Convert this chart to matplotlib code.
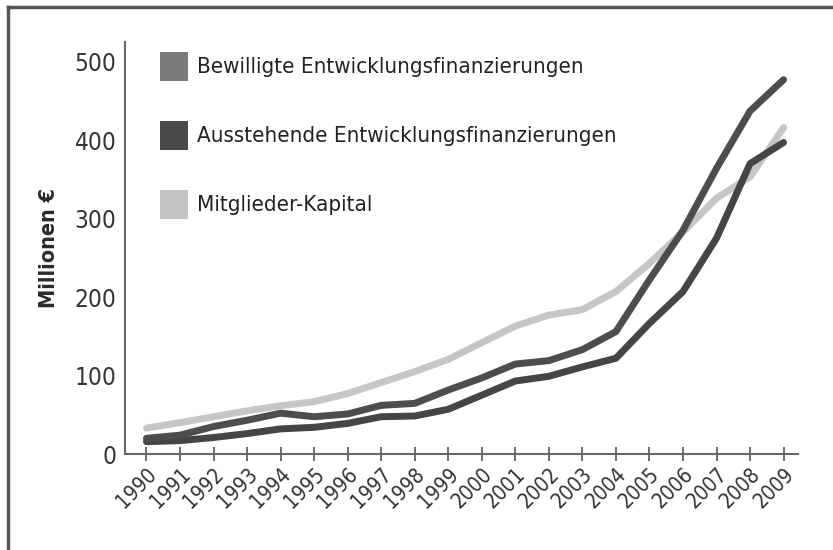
import matplotlib
matplotlib.use("Agg")
import matplotlib.pyplot as plt
from matplotlib.patches import Rectangle
from matplotlib.lines import Line2D
from matplotlib import font_manager as fm

years = list(range(1990, 2010))
year_labels = [str(y) for y in years]
bewilligte = [20, 24, 35, 43, 52, 47.5, 51, 62, 64.5, 81.5, 97, 114.6, 119, 133, 156, 222, 285, 364, 437, 477]
ausstehende = [15.7, 17, 21, 26, 32, 34, 39, 47.5, 48.4, 57, 75, 93, 99, 111, 122, 166.5, 207, 275, 370, 397]
mitglieder = [33, 40, 47.5, 55, 61.5, 66.7, 77, 91, 105, 120.6, 142, 163, 177, 184, 207, 243, 283, 326, 353, 416]
series_names = ["Bewilligte Entwicklungsfinanzierungen", "Ausstehende Entwicklungsfinanzierungen", "Mitglieder-Kapital"]
yticks = [0, 100, 200, 300, 400, 500]

# look for a condensed / narrow font
cond = None
cond_bold = None
for f in fm.fontManager.ttflist:
    nm = f.fname.lower()
    if ('condensed' in nm or 'narrow' in nm) and 'oblique' not in nm and 'italic' not in nm:
        if 'bold' in nm:
            if cond_bold is None:
                cond_bold = f
        elif cond is None:
            cond = f
is_cond = cond is not None
if is_cond:
    plt.rcParams['font.family'] = [fm.FontProperties(fname=cond.fname).get_name(), 'DejaVu Sans']
else:
    plt.rcParams['font.family'] = ['DejaVu Sans']

def fprop(size, bold=False):
    if bold and cond_bold is not None:
        return fm.FontProperties(fname=cond_bold.fname, size=size)
    if cond is not None:
        return fm.FontProperties(fname=cond.fname, size=size)
    return fm.FontProperties(family='DejaVu Sans', size=size, weight='bold' if bold else 'normal')

W, H = 833, 550
fig = plt.figure(figsize=(W/100, H/100), dpi=100)
ax = fig.add_axes([125/W, 1-454/H, (798-125)/W, (454-42)/H])

c_bew = '#4d4d4d'
c_aus = '#454545'
c_mit = '#c6c6c6'

ax.plot(years, mitglieder, color=c_mit, lw=5, solid_capstyle='round', solid_joinstyle='round', zorder=2)
ax.plot(years, ausstehende, color=c_aus, lw=5, solid_capstyle='round', solid_joinstyle='round', zorder=3)
ax.plot(years, bewilligte, color=c_bew, lw=5, solid_capstyle='round', solid_joinstyle='round', zorder=3)

ax.set_xlim(1989.36, 2009.43)
ax.set_ylim(0, 525)
ax.set_xticks(years)
ax.set_xticklabels(year_labels, rotation=45, ha='right', va='top', rotation_mode='anchor',
                   fontproperties=fprop(15 if is_cond else 13), color='#333333')
ax.set_yticks(yticks)
ax.set_yticklabels([str(v) for v in yticks], fontproperties=fprop(17.5 if is_cond else 16), color='#333333')
ax.tick_params(axis='y', length=0, pad=6)
ax.tick_params(axis='x', direction='inout', length=10, width=1.2, color='#555555', pad=2)
for s in ['top', 'right']:
    ax.spines[s].set_visible(False)
for s in ['left', 'bottom']:
    ax.spines[s].set_color('#666666')
    ax.spines[s].set_linewidth(1.5)
ax.set_ylabel("Millionen €", fontproperties=fprop(15.5 if is_cond else 15, bold=True), color='#2a2a2a')
ax.yaxis.set_label_coords((59-125)/673, 0.5)

# legend
leg_colors = ['#7a7a7a', '#4a4a4a', '#c4c4c4']
rows_y = [67, 136, 205]
for name, col, yc in zip(series_names, leg_colors, rows_y):
    fig.patches.append(Rectangle((160/W, 1-(yc+14)/H), 28/W, 29/H, transform=fig.transFigure,
                                 facecolor=col, edgecolor='none'))
    fig.text(197/W, 1-yc/H, name, fontproperties=fprop(16 if is_cond else 14), color='#222222', va='center', ha='left')

# frame
fig.add_artist(Line2D([8/W, 8/W], [0, 1-7/H], transform=fig.transFigure, color='#555555', lw=2.5))
fig.add_artist(Line2D([8/W, 1], [1-7/H, 1-7/H], transform=fig.transFigure, color='#555555', lw=2.5))

fig.savefig("out.png", dpi=100)
